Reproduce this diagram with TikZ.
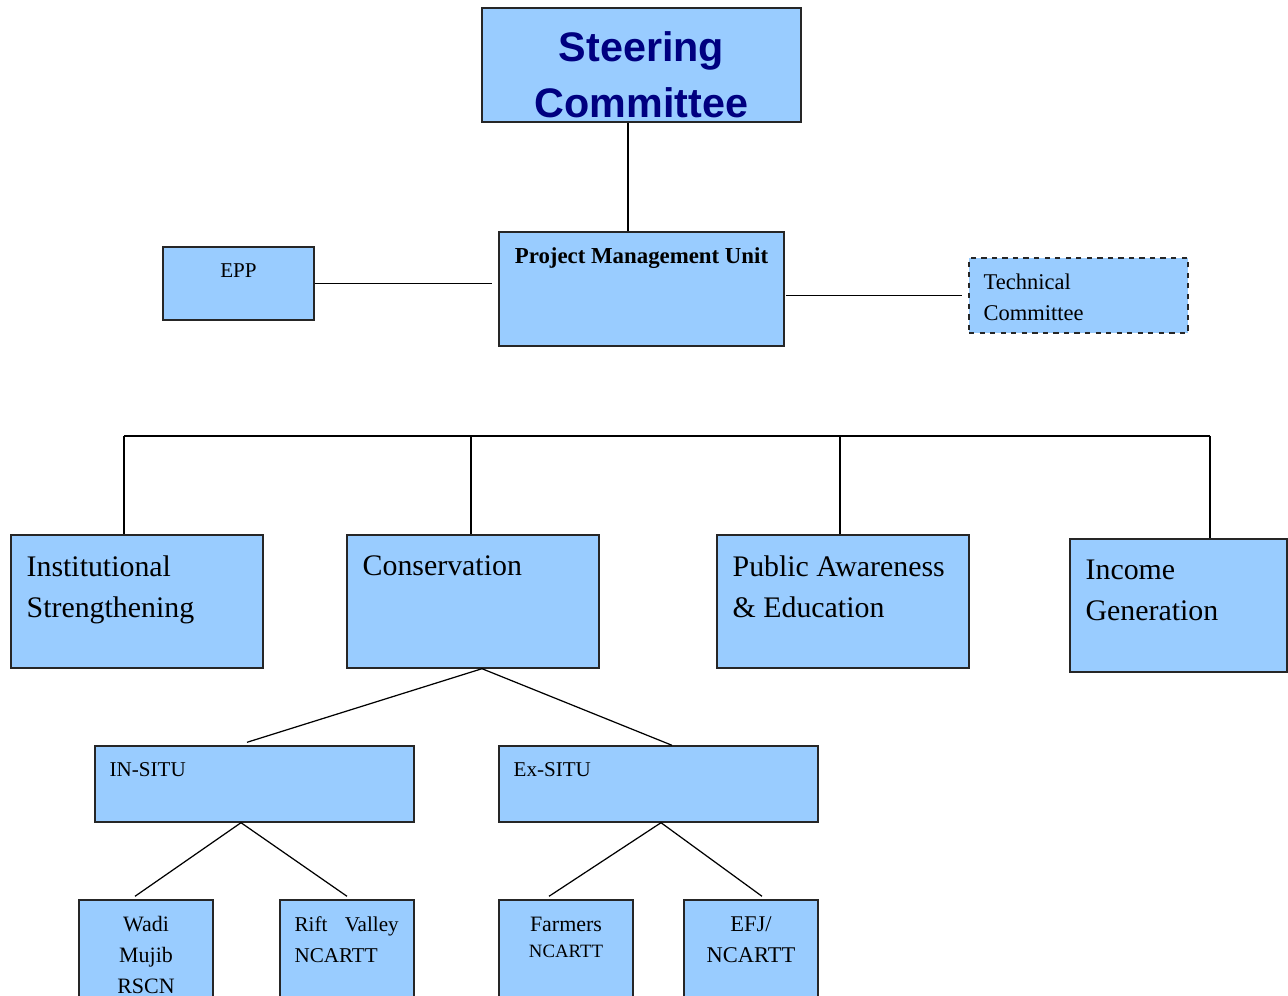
\documentclass[tikz,border=0pt]{standalone}
\usepackage{fontspec}
\setmainfont{Liberation Serif}
\newfontfamily\arialfont{Liberation Sans}
\usepackage{tikz}
\usetikzlibrary{positioning}
\definecolor{boxblue}{HTML}{99CCFF}
\definecolor{steernavy}{HTML}{000080}

\begin{document}
\begin{tikzpicture}[x=0.02cm, y=-0.02cm,
    main/.style = {draw=black!85, fill=boxblue, line width=0.8pt, rectangle, inner sep=0pt},
    sz/.style 2 args = {minimum width=#1*0.02cm, minimum height=#2*0.02cm},
    lbl/.style = {inner sep=0pt, align=left},
    big/.style = {lbl, font=\fontsize{17}{23.3}\selectfont},
    small/.style = {lbl, font=\fontsize{12}{17.6}\selectfont},
    conn/.style = {draw, line width=0.7pt}]
    \useasboundingbox (0,0) rectangle (1288,996);

    % top level
    \node[main, sz={319}{114}, label={[lbl, anchor=center, yshift=-0.2cm, align=center, text=steernavy,
        font=\arialfont\bfseries\fontsize{23.5}{32}\selectfont]center:Steering\\Committee}] (steer) at (641.5,65) {};
    \node[main, sz={285}{114}, label={[lbl, anchor=north, yshift=-0.32cm,
        font=\bfseries\fontsize{13}{16}\selectfont]north:Project Management Unit}] (pmu) at (641.5,289) {};
    \node[main, sz={151}{73}, label={[small, anchor=north, yshift=-0.34cm]north:EPP}] (epp) at (238.5,283.5) {};
    \node[main, sz={219}{75}, dashed, label={[lbl, anchor=north west, xshift=0.3cm, yshift=-0.32cm,
        font=\fontsize{12.8}{17.6}\selectfont]north west:Technical\\Committee}] (tech) at (1078.5,295.5) {};

    % components
    \node[main, sz={252}{133}, label={[big, anchor=north west, xshift=0.32cm, yshift=-0.42cm]north west:Institutional\\Strengthening}] (inst) at (137,601.5) {};
    \node[main, sz={252}{133}, label={[big, anchor=north west, xshift=0.32cm, yshift=-0.42cm]north west:Conservation}] (cons) at (473,601.5) {};
    \node[main, sz={252}{133}, label={[big, anchor=north west, xshift=0.32cm, yshift=-0.42cm]north west:Public Awareness\\\& Education}] (pub) at (843,601.5) {};
    \node[main, sz={217}{133}, label={[big, anchor=north west, xshift=0.32cm, yshift=-0.42cm]north west:Income\\Generation}] (inc) at (1178.5,605.5) {};

    % conservation
    \node[main, sz={319}{76}, label={[small, anchor=north west, xshift=0.3cm, yshift=-0.34cm]north west:IN-SITU}] (insitu) at (254.5,784) {};
    \node[main, sz={319}{76}, label={[small, anchor=north west, xshift=0.3cm, yshift=-0.34cm]north west:Ex-SITU}] (exsitu) at (658.5,784) {};

    % partners
    \node[main, sz={134}{100}, label={[small, anchor=north, yshift=-0.34cm, align=center,
        font=\fontsize{12.5}{17.6}\selectfont]north:Wadi\\Mujib\\RSCN}] (wadi) at (146,950) {};
    \node[main, sz={134}{100}, label={[small, anchor=north west, xshift=0.3cm, yshift=-0.34cm,
        text width=2.08cm]north west:Rift\hfill Valley\\NCARTT}] (rift) at (347,950) {};
    \node[main, sz={134}{100}, label={[small, anchor=north, yshift=-0.34cm, align=center,
        font=\fontsize{12.5}{15}\selectfont]north:Farmers\\{\fontsize{10.7}{13}\selectfont NCARTT}}] (farm) at (566,950) {};
    \node[main, sz={134}{100}, label={[small, anchor=north, yshift=-0.34cm, align=center,
        font=\fontsize{12.8}{17.6}\selectfont]north:EFJ/\\NCARTT}] (efj) at (751,950) {};

    % connectors
    \path ([xshift=-0.27cm]steer.south) coordinate (sdrop);
    \draw[conn] (sdrop) -- (sdrop |- pmu.north);
    \draw[conn] (epp.east) -- ([xshift=-0.12cm]pmu.west |- epp.east);
    \draw[conn] ([xshift=0.02cm]pmu.east |- tech.west) -- ([xshift=-0.12cm]tech.west);

    \coordinate (busl) at (124,436);
    \coordinate (busr) at (1210,436);
    \draw[conn] (busl) -- (busr);
    \draw[conn] (busl) -- (busl |- inst.north);
    \draw[conn] (busr) -- (busr |- inc.north);
    \draw[conn] ([xshift=-0.04cm]cons.north) -- ([xshift=-0.04cm]cons.north |- busl);
    \draw[conn] ([xshift=-0.06cm]pub.north) -- ([xshift=-0.06cm]pub.north |- busl);

    \draw[conn] ([xshift=0.18cm]cons.south) -- ([xshift=-0.15cm, yshift=0.06cm]insitu.north);
    \draw[conn] ([xshift=0.18cm]cons.south) -- ([xshift=0.27cm]exsitu.north);

    \draw[conn] ([xshift=-0.27cm]insitu.south) -- ([xshift=-0.22cm, yshift=0.06cm]wadi.north);
    \draw[conn] ([xshift=-0.27cm]insitu.south) -- ([yshift=0.06cm]rift.north);
    \draw[conn] ([xshift=0.05cm]exsitu.south) -- ([xshift=-0.34cm, yshift=0.06cm]farm.north);
    \draw[conn] ([xshift=0.05cm]exsitu.south) -- ([xshift=0.22cm, yshift=0.06cm]efj.north);
\end{tikzpicture}
\end{document}
